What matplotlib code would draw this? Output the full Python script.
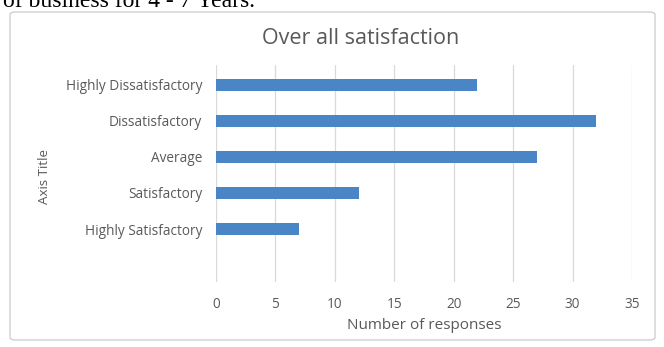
import matplotlib
matplotlib.use('Agg')
import matplotlib.pyplot as plt
from matplotlib.patches import FancyBboxPatch

# Dados do gráfico
categorias = ['Highly Satisfactory', 'Satisfactory', 'Average', 'Dissatisfactory', 'Highly Dissatisfactory']
respostas = [7, 12, 27, 32, 22]
ticks_x = [0, 5, 10, 15, 20, 25, 30, 35]

plt.rcParams['font.family'] = ['Open Sans', 'DejaVu Sans']
cinza = '#595959'

fig = plt.figure(figsize=(6.64, 3.47), dpi=100)

# Moldura do gráfico (atrás de tudo)
moldura = FancyBboxPatch((10 / 664, 1 - 340 / 347), 645 / 664, 328 / 347,
                         boxstyle='round,pad=0,rounding_size=0.008',
                         transform=fig.transFigure, facecolor='white',
                         edgecolor='#d0d0d0', linewidth=1.0, zorder=-10)
fig.patches.append(moldura)

# Texto cortado no topo
fig.text(0.005, 0.995, 'of business for 4 - 7 Years.', family=['Liberation Serif', 'DejaVu Serif'],
         fontsize=17, color='black', ha='left', va='center')

ax = fig.add_axes([216 / 664, 1 - 282 / 347, 416 / 664, 217 / 347])
ax.set_facecolor('none')
ax.set_zorder(5)
pos = list(range(len(categorias)))
ax.barh(pos, respostas, height=0.34, color='#4a86c6', zorder=3)

ax.set_xlim(0, 35)
ax.set_ylim(-1.47, 4.55)
ax.set_xticks(ticks_x)
ax.set_yticks(pos)
ax.set_yticklabels(categorias)
ax.tick_params(axis='both', length=0, colors=cinza, labelsize=9.8)
ax.tick_params(axis='x', pad=11)
ax.tick_params(axis='y', pad=10)
ax.grid(axis='x', color='#d9d9d9', linewidth=0.9, zorder=0)
for s in ax.spines.values():
    s.set_visible(False)

ax.set_xlabel('Number of responses', color=cinza, fontsize=11, labelpad=4)
fig.text(45 / 664, 1 - 177 / 347, 'Axis Title', rotation=90, color=cinza, fontsize=9.6,
         ha='center', va='center')
fig.text(361 / 664, 1 - 39 / 347, 'Over all satisfaction', color=cinza, fontsize=15.5,
         ha='center', va='center')

fig.savefig('out.png', dpi=100)
